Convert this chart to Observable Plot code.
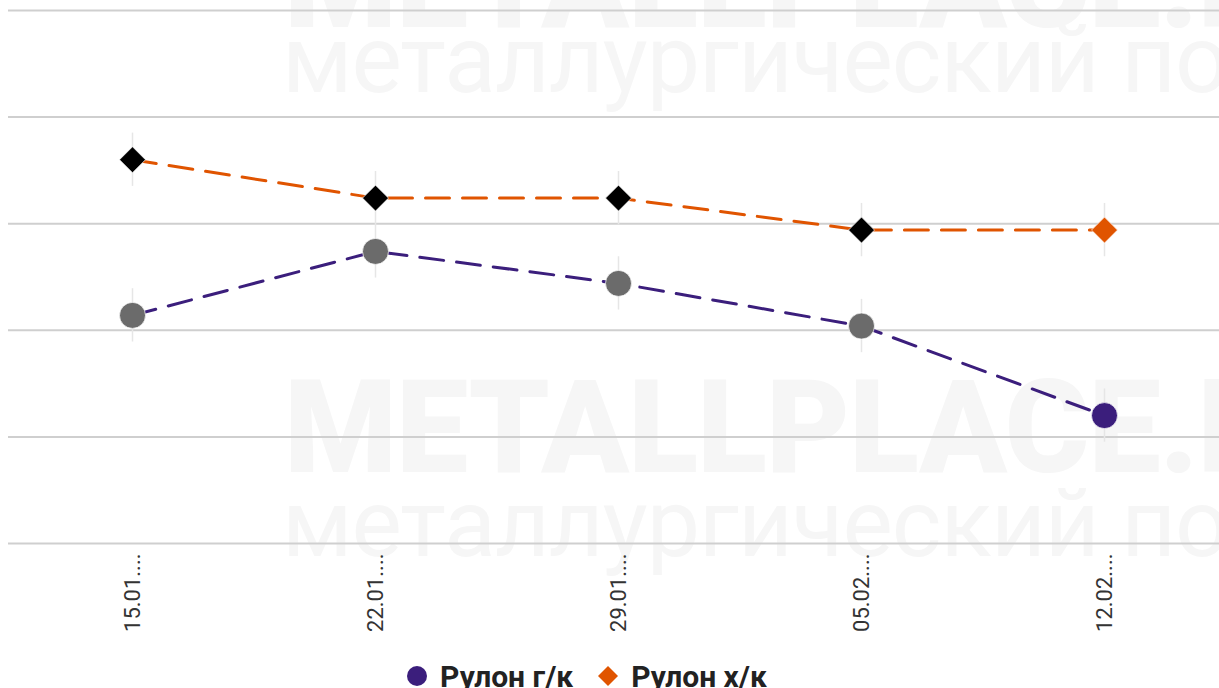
<!DOCTYPE html>
<html>
<head>
<meta charset="utf-8">
<script src="https://cdn.jsdelivr.net/npm/d3@7"></script>
<script src="https://cdn.jsdelivr.net/npm/@observablehq/plot@0.6"></script>
<style>
  html, body { margin: 0; padding: 0; background: #fff; overflow: hidden; width: 1219px; height: 688px; }
  #wrap { position: relative; width: 1219px; height: 688px; overflow: hidden; font-family: Roboto, sans-serif; }
  .wm { position: absolute; color: #f6f6f6; white-space: nowrap; z-index: 0; line-height: 1; }
  .wm.bold { font-weight: 900; font-size: 129px; letter-spacing: -1px; }
  .wm.light { font-weight: 400; font-size: 95px; letter-spacing: -1px; }
  #chart { position: absolute; left: 0; top: 0; width: 1227px; z-index: 1; }
  #chart svg { max-width: none !important; }
  #legend { position: absolute; left: 0; top: 650px; width: 1173px; height: 52px; display: flex; justify-content: center; align-items: center; gap: 24px; z-index: 2; font-weight: 700; font-size: 30px; color: #222; }
  #legend .item { display: flex; align-items: center; gap: 12px; }
</style>
</head>
<body>
<div id="wrap">
  <div class="wm bold" style="left:284px; top:-82px;">METALLPLACE.RU</div>
  <div class="wm light" style="left:282px; top:12px;">металлургический портал</div>
  <div class="wm bold" style="left:284px; top:363px;">METALLPLACE.RU</div>
  <div class="wm light" style="left:282px; top:476px;">металлургический портал</div>
  <div id="chart"></div>
  <div id="legend"></div>
</div>
<script>
const dates = ["15.01....", "22.01....", "29.01....", "05.02....", "12.02...."];
const hotRolled = [707, 737, 722, 702, 660];   // Рулон г/к
const coldRolled = [780, 762, 762, 747, 747];  // Рулон х/к
const yTicks = [600, 650, 700, 750, 800, 850];
const seriesNames = ["Рулон г/к", "Рулон х/к"];

const purple = "#3b1e7c";
const orange = "#e05400";
const gray = "#6b6b6b";

const hot = dates.map((d, i) => ({date: d, value: hotRolled[i], i}));
const cold = dates.map((d, i) => ({date: d, value: coldRolled[i], i}));
const last = dates.length - 1;
const all = hot.concat(cold);

const plot = Plot.plot({
  width: 1227,
  height: 650,
  marginLeft: 8,
  marginRight: 0,
  marginTop: 10,
  marginBottom: 107,
  style: {background: "transparent", fontFamily: "Roboto, sans-serif", maxWidth: "none"},
  x: {type: "point", domain: dates, padding: 0.5, label: null},
  y: {domain: [600, 850], label: null, axis: null},
  marks: [
    Plot.ruleY(yTicks, {stroke: "#cfcfcf", strokeWidth: 2}),
    Plot.ruleX(all, {x: "date", y1: d => d.value - 12.5, y2: d => d.value + 12.5, stroke: "#e6e6e6", strokeWidth: 1.5}),
    Plot.line(hot, {x: "date", y: "value", stroke: purple, strokeWidth: 3, strokeDasharray: "24,13"}),
    Plot.line(cold, {x: "date", y: "value", stroke: orange, strokeWidth: 3, strokeDasharray: "24,13"}),
    Plot.dot(hot, {x: "date", y: "value", r: 13, symbol: "circle", fill: d => d.i === last ? purple : gray, stroke: "white", strokeWidth: 0.7}),
    Plot.dot(cold, {x: "date", y: "value", r: 11.7, symbol: "diamond2", fill: d => d.i === last ? orange : "black", stroke: "white", strokeWidth: 0.7}),
    Plot.axisX({tickRotate: -90, tickSize: 0, tickPadding: 10, fontSize: 22, fill: "#333", label: null}),
  ]
});
document.getElementById("chart").appendChild(plot);

const legend = document.getElementById("legend");
const sym = [
  `<svg width="22" height="22"><circle cx="11" cy="11" r="10" fill="${purple}"/></svg>`,
  `<svg width="22" height="22"><path d="M11 1 L21 11 L11 21 L1 11 Z" fill="${orange}"/></svg>`
];
seriesNames.forEach((n, k) => {
  const it = document.createElement("div");
  it.className = "item";
  it.innerHTML = sym[k] + `<span>${n}</span>`;
  legend.appendChild(it);
});
</script>
</body>
</html>
